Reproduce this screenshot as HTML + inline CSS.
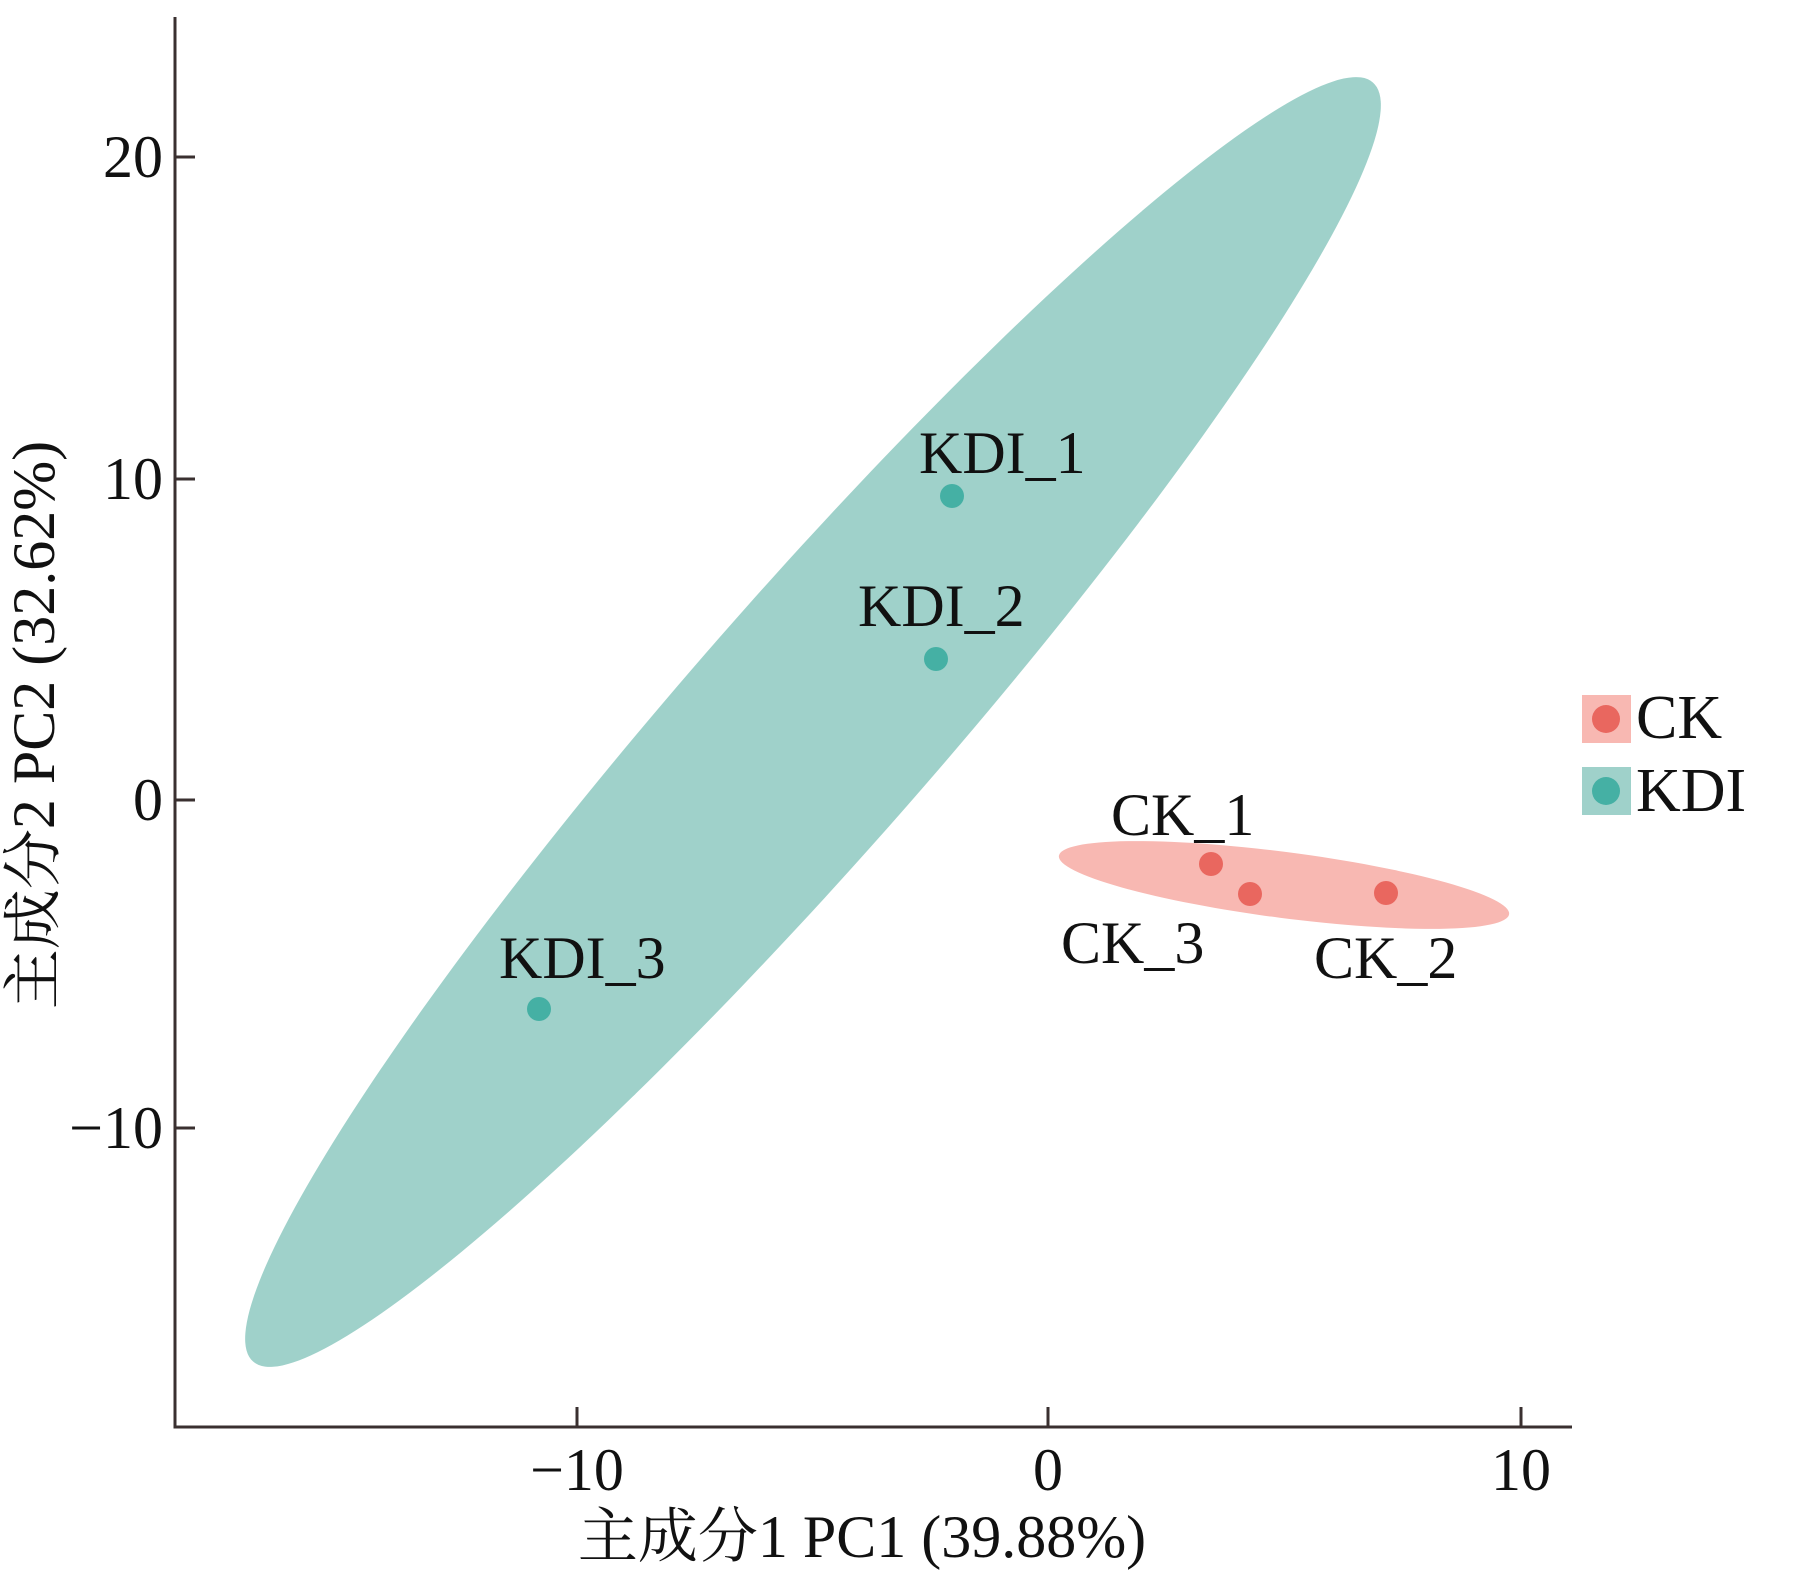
<!DOCTYPE html>
<html><head><meta charset="utf-8"><style>html,body{margin:0;padding:0;background:#fff}svg{display:block}
text{font-family:"Liberation Serif","Times New Roman","Noto Serif CJK SC",serif;fill:#111}</style></head>
<body>
<svg width="1819" height="1583" viewBox="0 0 1819 1583" xmlns="http://www.w3.org/2000/svg">
<ellipse cx="813" cy="722" rx="850" ry="126" transform="rotate(-48.8 813 722)" fill="#9fd1ca"/>
<ellipse cx="1284" cy="885" rx="227" ry="33" transform="rotate(7.4 1284 885)" fill="#f8b8b2"/>
<g stroke="#3a3030" stroke-width="3" fill="none">
<path d="M175 17 V1427 H1572"/>
<path d="M577 1407V1427M1048 1407V1427M1521 1407V1427"/>
<path d="M175 157H195M175 479H195M175 800H195M175 1128H195"/>
</g>
<g fill="#45b0a4"><circle cx="952" cy="496" r="12"/><circle cx="936" cy="659" r="12"/><circle cx="539" cy="1009" r="12"/></g>
<g fill="#e9675f"><circle cx="1211" cy="864" r="12"/><circle cx="1250" cy="894" r="12"/><circle cx="1386" cy="893" r="12"/></g>
<g font-size="60">
<text x="919" y="473">KDI_1</text>
<text x="858" y="626">KDI_2</text>
<text x="499" y="978">KDI_3</text>
<text x="1111" y="835">CK_1</text>
<text x="1061" y="963">CK_3</text>
<text x="1314" y="978">CK_2</text>
</g>
<g font-size="60" text-anchor="end">
<text x="163" y="177">20</text>
<text x="163" y="499">10</text>
<text x="163" y="820">0</text>
<text x="163" y="1148">−10</text>
</g>
<g font-size="60" text-anchor="middle">
<text x="577" y="1490">−10</text>
<text x="1048" y="1490">0</text>
<text x="1521" y="1490">10</text>
<text x="862" y="1557">主成分1 PC1 (39.88%)</text>
<text transform="translate(54 725) rotate(-90)">主成分2 PC2 (32.62%)</text>
</g>
<rect x="1582" y="695" width="49" height="48" fill="#f8b8b2"/>
<circle cx="1606" cy="719" r="14" fill="#e9675f"/>
<rect x="1582" y="767" width="49" height="48" fill="#9fd1ca"/>
<circle cx="1606" cy="791" r="14" fill="#45b0a4"/>
<g font-size="62">
<text x="1636" y="738">CK</text>
<text x="1636" y="811">KDI</text>
</g>
</svg>
</body></html>
